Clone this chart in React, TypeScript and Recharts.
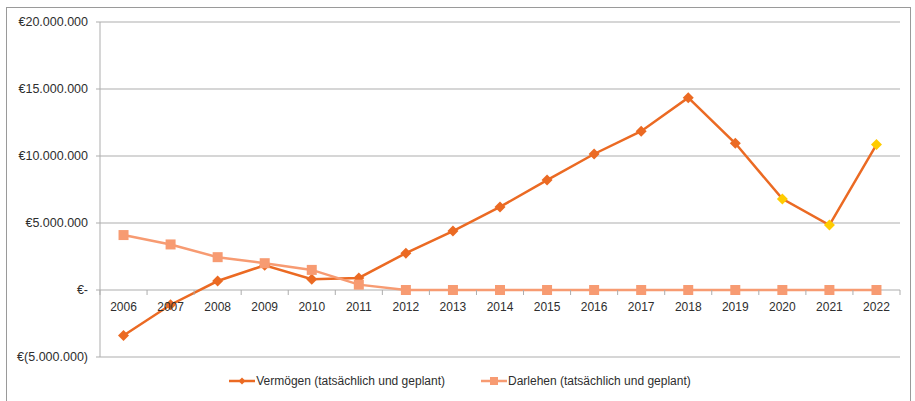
import React from 'react';
import { LineChart, Line, XAxis, YAxis, CartesianGrid, Legend } from 'recharts';

const years = ['2006', '2007', '2008', '2009', '2010', '2011', '2012', '2013', '2014', '2015', '2016', '2017', '2018', '2019', '2020', '2021', '2022'];
const vermoegen = [-3400000, -1100000, 670000, 1850000, 800000, 900000, 2750000, 4400000, 6200000, 8200000, 10150000, 11850000, 14350000, 10950000, 6800000, 4850000, 10850000];
const darlehen = [4100000, 3400000, 2450000, 2000000, 1500000, 400000, 0, 0, 0, 0, 0, 0, 0, 0, 0, 0, 0];
const yTicks = [-5000000, 0, 5000000, 10000000, 15000000, 20000000];
const seriesOrder = ['vermoegen', 'darlehen'];
const plannedFrom = 14; // 2020 onwards drawn with yellow markers

const data = years.map((year, i) => ({ year, vermoegen: vermoegen[i], darlehen: darlehen[i] }));

const W = 915;
const H = 401;
const M = { top: 22, right: 15, bottom: 4, left: 0 };
const X_H = 1;
const LEGEND_H = 39;
const Y_W = 100;
const plotTop = M.top;
const plotBottom = H - M.bottom - LEGEND_H - X_H;
const plotW = W - M.left - M.right - Y_W;
const zeroY = plotTop + (20 / 25) * (plotBottom - plotTop);
const band = plotW / years.length;

const FONT = '"Liberation Sans", Arial, sans-serif';
const TEXT = '#2E2E2E';
const GRID = '#ADADAD';
const ORANGE = '#EB6A23';
const SALMON = '#F79B72';
const YELLOW = '#FFCC00';

const groupDots = (n: number) => String(n).replace(/\B(?=(\d{3})+(?!\d))/g, '.');
const euro = (v: number) => (v === 0 ? '€-' : v < 0 ? `€(${groupDots(-v)})` : `€${groupDots(v)}`);

const Diamond = ({ cx, cy, r, fill }: { cx: number; cy: number; r: number; fill: string }) => (
  <polygon points={`${cx},${cy - r} ${cx + r},${cy} ${cx},${cy + r} ${cx - r},${cy}`} fill={fill} />
);

const vermoegenDot = (props: any) => {
  const { cx, cy, index } = props;
  if (cx == null || cy == null) return <g key={`vd-${index}`} />;
  return (
    <Diamond key={`vd-${index}`} cx={cx} cy={cy} r={5.5} fill={index >= plannedFrom ? YELLOW : ORANGE} />
  );
};

const darlehenDot = (props: any) => {
  const { cx, cy, index } = props;
  if (cx == null || cy == null) return <g key={`dd-${index}`} />;
  return <rect key={`dd-${index}`} x={cx - 5} y={cy - 5} width={10} height={10} fill={SALMON} />;
};

// category labels sit under the zero line, tick marks on category boundaries
const XTick = (props: any) => {
  const { x, payload, index } = props;
  const last = index === years.length - 1;
  return (
    <g>
      <line x1={x - band / 2} y1={zeroY} x2={x - band / 2} y2={zeroY + 5} stroke={GRID} />
      {last && <line x1={x + band / 2} y1={zeroY} x2={x + band / 2} y2={zeroY + 5} stroke={GRID} />}
      <text x={x} y={zeroY + 21} textAnchor="middle" fontFamily={FONT} fontSize={12} fill={TEXT}>
        {payload.value}
      </text>
    </g>
  );
};

const LegendContent = (props: any) => {
  const items = [...(props.payload || [])].sort(
    (a: any, b: any) => seriesOrder.indexOf(a.dataKey) - seriesOrder.indexOf(b.dataKey)
  );
  return (
    <div style={{ display: 'flex', justifyContent: 'center', gap: 36, paddingTop: 16, paddingLeft: 20, fontFamily: FONT, fontSize: 12, color: TEXT }}>
      {items.map((it: any) => (
        <span key={it.value} style={{ display: 'flex', alignItems: 'center' }}>
          <svg width={26} height={12} style={{ marginRight: 1 }}>
            <line x1={0} y1={6} x2={26} y2={6} stroke={it.color} strokeWidth={2.5} />
            {it.dataKey === 'vermoegen' ? (
              <Diamond cx={13} cy={6} r={3.5} fill={it.color} />
            ) : (
              <rect x={9} y={2} width={8} height={8} fill={it.color} />
            )}
          </svg>
          <span>{it.value}</span>
        </span>
      ))}
    </div>
  );
};

export default function App() {
  return (
    <div style={{ position: 'fixed', left: 0, top: 0, width: W, height: H, overflow: 'hidden', background: '#fff' }}>
      <div style={{ position: 'absolute', left: 6, top: 7, width: 905, height: 420, border: '1px solid #9A9A9A', boxSizing: 'border-box' }} />
      <div style={{ position: 'absolute', left: 0, top: 0 }}>
        <LineChart width={W} height={H} data={data} margin={M}>
          <CartesianGrid horizontal vertical={false} stroke={GRID} />
          <XAxis dataKey="year" scale="band" height={X_H} axisLine={false} tickLine={false} tick={XTick} interval={0} />
          <YAxis
            width={Y_W}
            domain={[-5000000, 20000000]}
            ticks={yTicks}
            tickFormatter={euro}
            stroke={GRID}
            tickSize={4}
            tickMargin={8}
            tick={{ fill: TEXT, fontFamily: FONT, fontSize: 12.5 }}
          />
          <Legend verticalAlign="bottom" height={LEGEND_H} content={LegendContent} />
          <Line
            type="linear"
            dataKey="vermoegen"
            name="Vermögen (tatsächlich und geplant)"
            stroke={ORANGE}
            strokeWidth={2.5}
            dot={vermoegenDot}
            activeDot={false}
            isAnimationActive={false}
          />
          <Line
            type="linear"
            dataKey="darlehen"
            name="Darlehen (tatsächlich und geplant)"
            stroke={SALMON}
            strokeWidth={2.5}
            dot={darlehenDot}
            activeDot={false}
            isAnimationActive={false}
          />
        </LineChart>
      </div>
    </div>
  );
}
